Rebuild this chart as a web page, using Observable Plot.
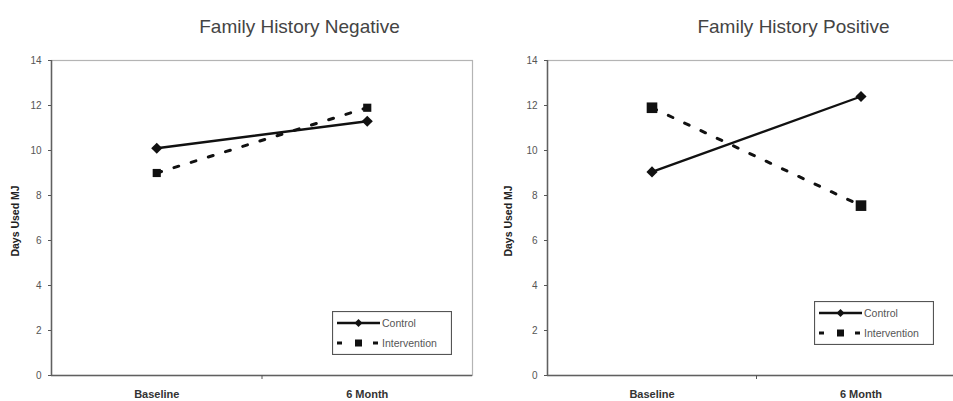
<!DOCTYPE html>
<html><head><meta charset="utf-8">
<script src="https://cdn.jsdelivr.net/npm/d3@7"></script>
<script src="https://cdn.jsdelivr.net/npm/@observablehq/plot@0.6"></script>
<style>
html,body{margin:0;padding:0;background:#fff;}
#chart{position:relative;width:953px;height:401px;overflow:hidden;font-family:"Liberation Sans",Arial,sans-serif;}
.panel{position:absolute;top:0;}
.legend{position:absolute;}
</style></head><body><div id="chart"></div>
<script>
const timepoints = ["Baseline", "6 Month"];
const groups = ["Control", "Intervention"];
const negControl = [10.1, 11.3];
const negIntervention = [9.0, 11.9];
const posControl = [9.05, 12.4];
const posIntervention = [11.9, 7.55];
const yTicks = [0, 2, 4, 6, 8, 10, 12, 14];
const titles = ["Family History Negative", "Family History Positive"];
const yLabel = "Days Used MJ";

const FONT = "Liberation Sans, Arial, sans-serif";
const chart = document.getElementById("chart");

function rows(values) {
  return values.map((v, i) => ({time: timepoints[i], pos: i + 0.5, value: v}));
}

function panel(cfg) {
  const ctrl = rows(cfg.control);
  const intv = rows(cfg.intervention);
  const p = Plot.plot({
    width: cfg.width,
    height: 401,
    marginLeft: cfg.marginLeft,
    marginRight: 4,
    marginTop: 60,
    marginBottom: 26,
    style: {fontFamily: FONT, background: "transparent", overflow: "visible"},
    x: {domain: [0, timepoints.length]},
    y: {domain: [0, 14]},
    marks: [
      Plot.frame({stroke: "#b4b4b4", strokeWidth: 1.2}),
      Plot.ruleX([0], {stroke: "#606060", strokeWidth: 1.5}),
      Plot.ruleY([0], {stroke: "#606060", strokeWidth: 1.5}),
      Plot.axisY({ticks: yTicks, tickSize: 3, tickPadding: 7, label: null, fontSize: 10, color: "#555", tickFormat: d => String(d)}),
      Plot.axisX({ticks: timepoints.map((t, i) => i + 0.5), tickFormat: v => timepoints[Math.floor(v)], tickSize: 0, tickPadding: 15, label: null, fontSize: 11, fontWeight: "bold", color: "#333"}),
      Plot.axisX({ticks: [1], tickFormat: () => "", tickSize: 4, label: null, color: "#555"}),
      Plot.line(ctrl, {x: "pos", y: "value", stroke: "#111", strokeWidth: 2.3}),
      Plot.line(intv, {x: "pos", y: "value", stroke: "#111", strokeWidth: 3, strokeDasharray: "5,13"}),
      Plot.dot(ctrl, {x: "pos", y: "value", symbol: "diamond2", r: 5, fill: "#111", stroke: "none"}),
      Plot.dot(intv, {x: "pos", y: "value", symbol: "square", r: cfg.squareR, fill: "#111", stroke: "none"}),
      Plot.text([cfg.title], {frameAnchor: "top", lineAnchor: "middle", textAnchor: "middle", dx: cfg.titleDx, dy: -34, fontSize: 19, fill: "#444", text: d => d}),
      Plot.text([yLabel], {frameAnchor: "left", textAnchor: "middle", lineAnchor: "middle", dx: cfg.labelDx, dy: 3, rotate: -90, fontSize: 10.5, fontWeight: "bold", fill: "#222", text: d => d})
    ]
  });
  p.classList.add("panel");
  p.style.left = cfg.left + "px";
  chart.appendChild(p);

  // legend
  const lg = d3.create("svg").attr("class", "legend")
    .attr("width", cfg.legend.w).attr("height", cfg.legend.h)
    .style("left", cfg.legend.x + "px").style("top", cfg.legend.y + "px");
  lg.append("rect").attr("x", 0.5).attr("y", 0.5).attr("width", cfg.legend.w - 1).attr("height", cfg.legend.h - 1)
    .attr("fill", "#fff").attr("stroke", "#555").attr("stroke-width", 1.2);
  const ry = [12, 32];
  groups.forEach((g, i) => {
    const y = ry[i];
    lg.append("line").attr("x1", 5).attr("x2", 48).attr("y1", y).attr("y2", y)
      .attr("stroke", "#111").attr("stroke-width", i === 0 ? 2.3 : 3)
      .attr("stroke-dasharray", i === 0 ? null : "5,13");
    if (i === 0) {
      lg.append("path").attr("d", d3.symbol(d3.symbolDiamond2, 40)()).attr("transform", `translate(26.5,${y})`).attr("fill", "#111");
    } else {
      lg.append("rect").attr("x", 23).attr("y", y - 3.5).attr("width", 7).attr("height", 7).attr("fill", "#111");
    }
    lg.append("text").attr("x", 50).attr("y", y).attr("dy", "0.35em")
      .attr("font-family", FONT).attr("font-size", 10.5).attr("fill", "#555").text(g);
  });
  chart.appendChild(lg.node());
}

panel({left: 0, width: 476, marginLeft: 51, control: negControl, intervention: negIntervention,
  title: titles[0], titleDx: 37.5, labelDx: -35.5, squareR: 4.6,
  legend: {x: 332, y: 311, w: 120, h: 44}});
panel({left: 476, width: 493, marginLeft: 71, control: posControl, intervention: posIntervention,
  title: titles[1], titleDx: 37, labelDx: -39, squareR: 6,
  legend: {x: 814, y: 301, w: 120, h: 44}});
</script></body></html>
